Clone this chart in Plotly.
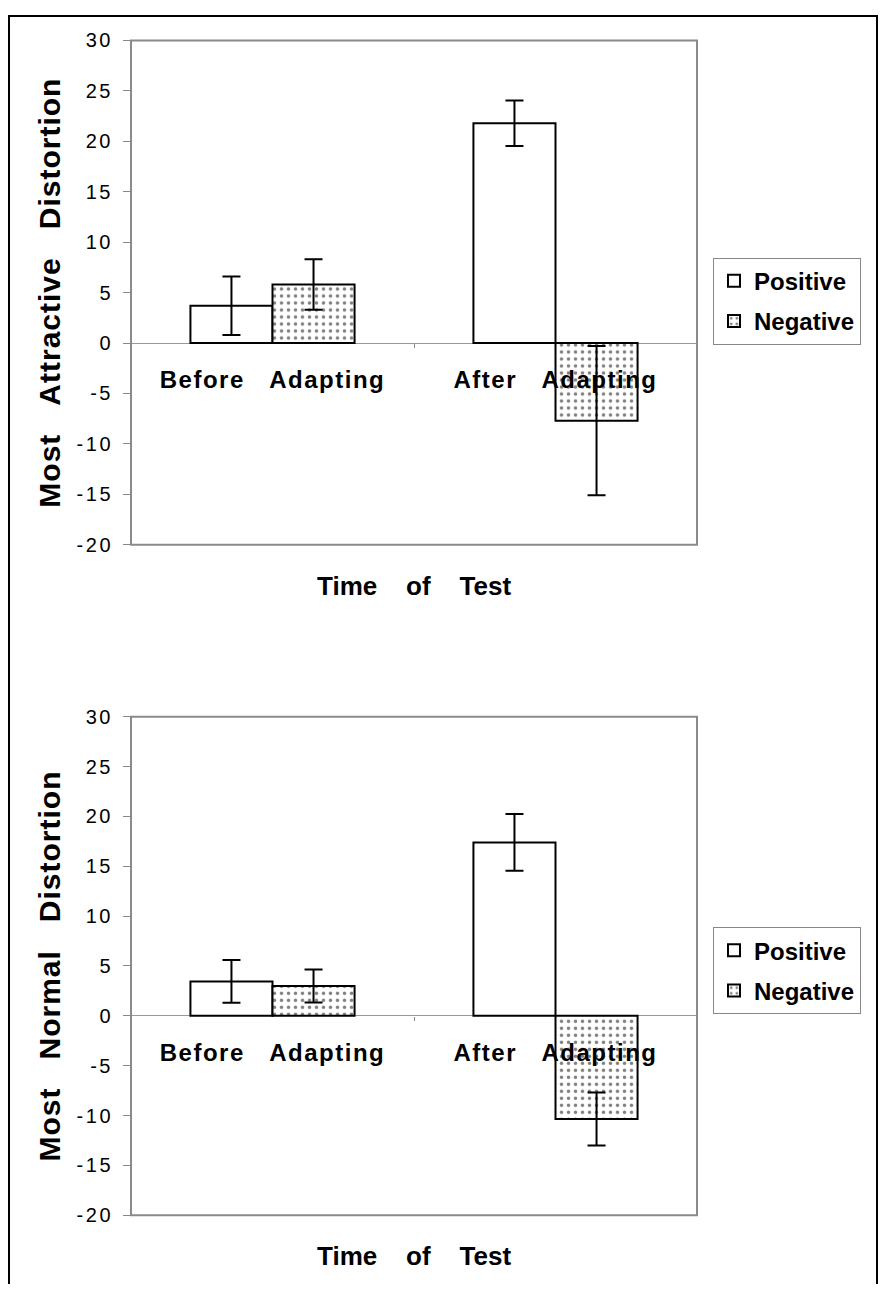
import plotly.graph_objects as go

# ---- data ----
categories = ["Before Adapting", "After Adapting"]
series_names = ["Positive", "Negative"]

attractive_positive = [3.7, 21.8]
attractive_positive_err = [2.9, 2.25]
attractive_negative = [5.8, -7.7]
attractive_negative_err = [2.5, 7.4]

normal_positive = [3.45, 17.4]
normal_positive_err = [2.15, 2.85]
normal_negative = [3.0, -10.35]
normal_negative_err = [1.65, 2.65]

y_ticks = [30, 25, 20, 15, 10, 5, 0, -5, -10, -15, -20]
y_titles = ["Most Attractive Distortion", "Most Normal Distortion"]
x_title = "Time of Test"

# ---- layout constants ----
W, H = 880, 1295
FONT = "Liberation Sans, Arial, Helvetica, sans-serif"
YMIN, YMAX = -20, 30
px_x0, px_x1 = 131, 697
panels = [  # (top px, bottom px)
    (30, 543),
    (718, 1225),
]

def spaced(s, n=3):
    return s.replace(" ", "\u00a0" * n)

fig = go.Figure()

data_sets = [
    (attractive_positive, attractive_positive_err, attractive_negative, attractive_negative_err),
    (normal_positive, normal_positive_err, normal_negative, normal_negative_err),
]

legend_tops = [251, 932]

for i, ((pos, pos_e, neg, neg_e), (top, bot)) in enumerate(zip(data_sets, panels)):
    sfx = "" if i == 0 else str(i + 1)
    xa, ya = "x" + sfx, "y" + sfx
    leg = "legend" if i == 0 else "legend2"
    fig.add_trace(go.Bar(
        x=categories, y=pos, name=series_names[0], xaxis=xa, yaxis=ya,
        legend=leg, legendgroup="p%d" % i,
        marker=dict(color="white", line=dict(color="black", width=2)),
        error_y=dict(type="data", array=pos_e, visible=True, color="black", thickness=2, width=9),
    ))
    fig.add_trace(go.Bar(
        x=categories, y=neg, name=series_names[1], xaxis=xa, yaxis=ya,
        legend=leg, legendgroup="n%d" % i,
        marker=dict(color="white", line=dict(color="black", width=2),
                    pattern=dict(shape=".", fgcolor="black", bgcolor="white", size=7, solidity=0.2)),
        error_y=dict(type="data", array=neg_e, visible=True, color="black", thickness=2, width=9),
    ))

    y0 = 1 - bot / H
    y1 = 1 - top / H
    zero_pos = y0 + (0 - YMIN) / (YMAX - YMIN) * (y1 - y0)

    xkey = "xaxis" + sfx
    ykey = "yaxis" + sfx
    fig.layout[xkey] = dict(
        domain=[px_x0 / W, px_x1 / W], anchor="free", position=zero_pos,
        tickvals=categories, ticktext=[spaced(c) for c in categories],
        tickfont=dict(family=FONT, size=24, color="black", weight="bold"),
        ticks="outside", ticklen=4, tickcolor="#888", tickson="boundaries",
        showline=False, showgrid=False, zeroline=False, ticklabelstandoff=20,
        fixedrange=True,
    )
    fig.layout[ykey] = dict(
        domain=[y0, y1], anchor=xa, range=[YMIN, YMAX],
        tickvals=y_ticks, ticktext=[str(v) for v in y_ticks],
        tickfont=dict(family=FONT, size=20, color="black"),
        ticks="outside", ticklen=7, tickcolor="#888", tickwidth=1,
        showgrid=False, showline=False,
        zeroline=True, zerolinecolor="#999", zerolinewidth=1,
        title=dict(text=spaced(y_titles[i], 3), standoff=14,
                   font=dict(family=FONT, size=30, color="black", weight="bold")),
        ticklabelstandoff=6,
    )
    # plot area border
    fig.add_shape(type="rect", xref=xa + " domain", yref=ya + " domain",
                  x0=0, x1=1, y0=0, y1=1, line=dict(color="#8a8a8a", width=2), layer="above")
    # x title
    fig.add_annotation(text=spaced(x_title, 4), xref="paper", yref="paper",
                       x=(px_x0 + px_x1) / 2 / W, y=1 - (bot + 42) / H,
                       xanchor="center", yanchor="middle", showarrow=False,
                       font=dict(family=FONT, size=26, color="black", weight="bold"))
    fig.layout[leg] = dict(
        x=713 / W, y=1 - legend_tops[i] / H, xanchor="left", yanchor="top",
        bordercolor="#888", borderwidth=1, bgcolor="white",
        font=dict(family=FONT, size=24, color="black", weight="bold"),
        tracegroupgap=6, itemwidth=30,
    )

# outer frame (left, top, right edges; bottom runs off the page)
fx0, fx1, fy1 = 9 / W, 877 / W, 1 - 5 / H
fig.add_shape(type="path", xref="paper", yref="paper",
              path=f"M {fx0},0 L {fx0},{fy1} L {fx1},{fy1} L {fx1},0",
              line=dict(color="black", width=2))

fig.update_layout(
    width=W, height=H, margin=dict(l=0, r=0, t=0, b=0),
    paper_bgcolor="white", plot_bgcolor="white",
    barmode="group", bargap=0.42, bargroupgap=0,
    showlegend=True,
)

post = """
var gd = document.getElementById('{plot_id}');
document.documentElement.style.margin = '0';
document.body.style.margin = '0';
document.body.style.padding = '0';
document.documentElement.style.overflow = 'hidden';
gd.style.position = 'absolute';
gd.style.left = '0px';
gd.style.top = '0px';
var st = document.createElement('style');
st.textContent = '.ytick text, .y2tick text {letter-spacing: 2.5px;} ' +
                 '.xtick text, .x2tick text {letter-spacing: 1.5px;} ' +
                 'text.ytitle, text.y2title {letter-spacing: 1px;}';
document.head.appendChild(st);
return Plotly.newPlot(gd, gd.data, gd.layout, {displayModeBar: false, staticPlot: true});
"""

fig.write_html("out.html", post_script=post, config={"displayModeBar": False})
